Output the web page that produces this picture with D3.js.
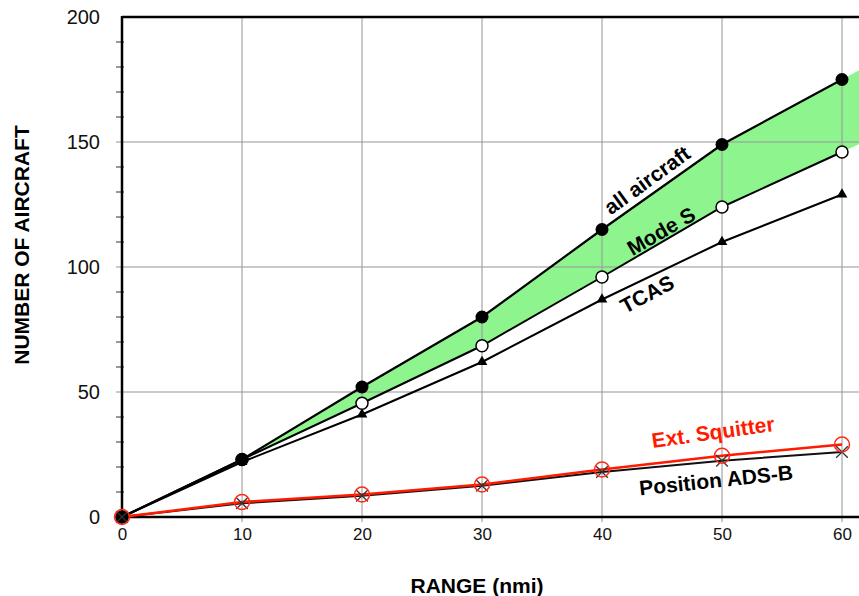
<!DOCTYPE html>
<html>
<head>
<meta charset="utf-8">
<title>Number of aircraft vs range</title>
<style>
  body { margin: 0; background: #fff; }
  svg { display: block; }
  text { font-family: "Liberation Sans", Arial, sans-serif; }
</style>
<script src="https://cdnjs.cloudflare.com/ajax/libs/d3/7.8.5/d3.min.js"></script>
</head>
<body>
<script>
// data
var range = [0, 10, 20, 30, 40, 50, 60];
var allAircraft = [0, 23, 52, 80, 115, 149, 175];
var modeS = [0, 23, 45.5, 68.5, 96, 124, 146];
var tcas = [0, 22, 41, 62, 87, 110, 129];
var extSquitter = [0, 6, 9, 13, 19, 24.5, 29];
var positionAdsb = [0, 5.5, 8.5, 12.5, 18, 22.5, 26];
var xTicks = [0, 10, 20, 30, 40, 50, 60];
var yTicks = [0, 50, 100, 150, 200];

var W = 859, H = 596;
var m = { left: 122, top: 17, bottom: 79 };

var svg = d3.select("body").append("svg")
  .attr("width", W).attr("height", H);

var x = d3.scaleLinear().domain([0, 60]).range([m.left, 842]);
var y = d3.scaleLinear().domain([0, 200]).range([H - m.bottom, m.top]);

svg.append("clipPath").attr("id", "plot")
  .append("rect").attr("x", m.left).attr("y", m.top)
  .attr("width", W - m.left).attr("height", H - m.bottom - m.top);

// green band between all aircraft and Mode S, carried on past 60 along the last segment
function pts(vals) {
  var p = range.map(function(r, i) { return [r, vals[i]]; });
  var n = p.length;
  var slope = (p[n-1][1] - p[n-2][1]) / (p[n-1][0] - p[n-2][0]);
  p.push([65, p[n-1][1] + slope * 5]);
  return p;
}
var upper = pts(allAircraft), lower = pts(modeS);
var band = d3.area()
  .x(function(d) { return x(d[0]); })
  .y0(function(d, i) { return y(lower[i][1]); })
  .y1(function(d) { return y(d[1]); });
svg.append("path").datum(upper)
  .attr("clip-path", "url(#plot)")
  .attr("d", band).attr("fill", "#8ef58e");

// grid
var grid = svg.append("g").attr("stroke", "#999").attr("stroke-opacity", 0.7).attr("stroke-width", 1.5);
grid.selectAll(".gx").data(xTicks.slice(1)).enter().append("line")
  .attr("x1", function(d) { return x(d); }).attr("x2", function(d) { return x(d); })
  .attr("y1", y(200)).attr("y2", y(0) + 5);
grid.selectAll(".gy").data([50, 100, 150]).enter().append("line")
  .attr("x1", m.left - 6).attr("x2", W)
  .attr("y1", function(d) { return y(d); }).attr("y2", function(d) { return y(d); });

// minor y ticks
svg.append("g").attr("stroke", "#777").attr("stroke-width", 1.5)
  .selectAll("line").data(d3.range(10, 200, 10).filter(function(v) { return v % 50; }))
  .enter().append("line")
  .attr("x1", m.left - 6).attr("x2", m.left + 2)
  .attr("y1", function(d) { return y(d); }).attr("y2", function(d) { return y(d); });

// axes
var yAxis = d3.axisLeft(y).tickValues(yTicks).tickSize(0).tickPadding(22);
var gy = svg.append("g").attr("transform", "translate(" + m.left + ",0)").call(yAxis);
gy.select(".domain").remove();
gy.selectAll("text").attr("font-size", 20).attr("fill", "#111")
  .attr("font-family", "'Open Sans', sans-serif");

var xAxis = d3.axisBottom(x).tickValues(xTicks).tickSize(0).tickPadding(11);
var gx = svg.append("g").attr("transform", "translate(0," + y(0) + ")").call(xAxis);
gx.select(".domain").remove();
gx.selectAll("text").attr("font-size", 17).attr("fill", "#111")
  .attr("font-family", "'Open Sans', sans-serif");

svg.append("line").attr("x1", m.left).attr("x2", m.left)
  .attr("y1", y(200) - 1).attr("y2", y(0) + 1).attr("stroke", "#000").attr("stroke-width", 2.5);
svg.append("line").attr("x1", m.left).attr("x2", W)
  .attr("y1", y(200)).attr("y2", y(200)).attr("stroke", "#000").attr("stroke-width", 2.5);
svg.append("line").attr("x1", m.left).attr("x2", W)
  .attr("y1", y(0)).attr("y2", y(0)).attr("stroke", "#000").attr("stroke-width", 2.5);

// axis titles
svg.append("text").attr("transform", "translate(21,245) rotate(-90)")
  .attr("text-anchor", "middle").attr("dominant-baseline", "central")
  .attr("font-weight", "bold").attr("font-size", 21)
  .text("NUMBER OF AIRCRAFT");
svg.append("text").attr("x", 477).attr("y", 593)
  .attr("text-anchor", "middle").attr("font-weight", "bold").attr("font-size", 21)
  .text("RANGE (nmi)");

// series
var line = d3.line()
  .x(function(d, i) { return x(range[i]); })
  .y(function(d) { return y(d); });

function series(vals, color, width) {
  svg.append("path").datum(vals).attr("d", line)
    .attr("fill", "none").attr("stroke", color).attr("stroke-width", width);
}
series(positionAdsb, "#111", 2);
series(tcas, "#000", 2);
series(modeS, "#000", 2);
series(allAircraft, "#000", 2.2);
series(extSquitter, "#ff1a00", 2.5);

// markers
var tri = d3.symbol().type(d3.symbolTriangle).size(50);
svg.append("g").selectAll("path").data(tcas).enter().append("path")
  .attr("transform", function(d, i) { return "translate(" + x(range[i]) + "," + y(d) + ")"; })
  .attr("d", tri).attr("fill", "#000");

svg.append("g").selectAll("circle").data(modeS).enter().append("circle")
  .attr("cx", function(d, i) { return x(range[i]); }).attr("cy", function(d) { return y(d); })
  .attr("r", 6).attr("fill", "#fff").attr("stroke", "#000").attr("stroke-width", 1.5);

svg.append("g").selectAll("circle").data(allAircraft).enter().append("circle")
  .attr("cx", function(d, i) { return x(range[i]); }).attr("cy", function(d) { return y(d); })
  .attr("r", 6.5).attr("fill", "#000");

var cross = d3.symbol().type(d3.symbolTimes).size(90);
svg.append("g").selectAll("path").data(positionAdsb).enter().append("path")
  .attr("transform", function(d, i) { return "translate(" + x(range[i]) + "," + y(d) + ")"; })
  .attr("d", cross).attr("fill", "none").attr("stroke", "#333").attr("stroke-width", 1.3);

svg.append("g").selectAll("circle").data(extSquitter).enter().append("circle")
  .attr("cx", function(d, i) { return x(range[i]); }).attr("cy", function(d) { return y(d); })
  .attr("r", 7.5).attr("fill", "none").attr("stroke", "#ff2a1a").attr("stroke-width", 1.5);

// labels along the lines
function label(t, cx, cy, ang, color) {
  svg.append("text").attr("transform", "translate(" + cx + "," + cy + ") rotate(" + ang + ")")
    .attr("text-anchor", "middle").attr("dominant-baseline", "central")
    .attr("font-weight", "bold").attr("font-size", 21).attr("fill", color).text(t);
}
label("all aircraft", 647, 180, -36, "#000");
label("Mode S", 661, 231, -30, "#000");
label("TCAS", 647, 294, -28, "#000");
label("Ext. Squitter", 713, 432, -8, "#ff1a00");
label("Position ADS-B", 716, 480, -6, "#000");
</script>
</body>
</html>
